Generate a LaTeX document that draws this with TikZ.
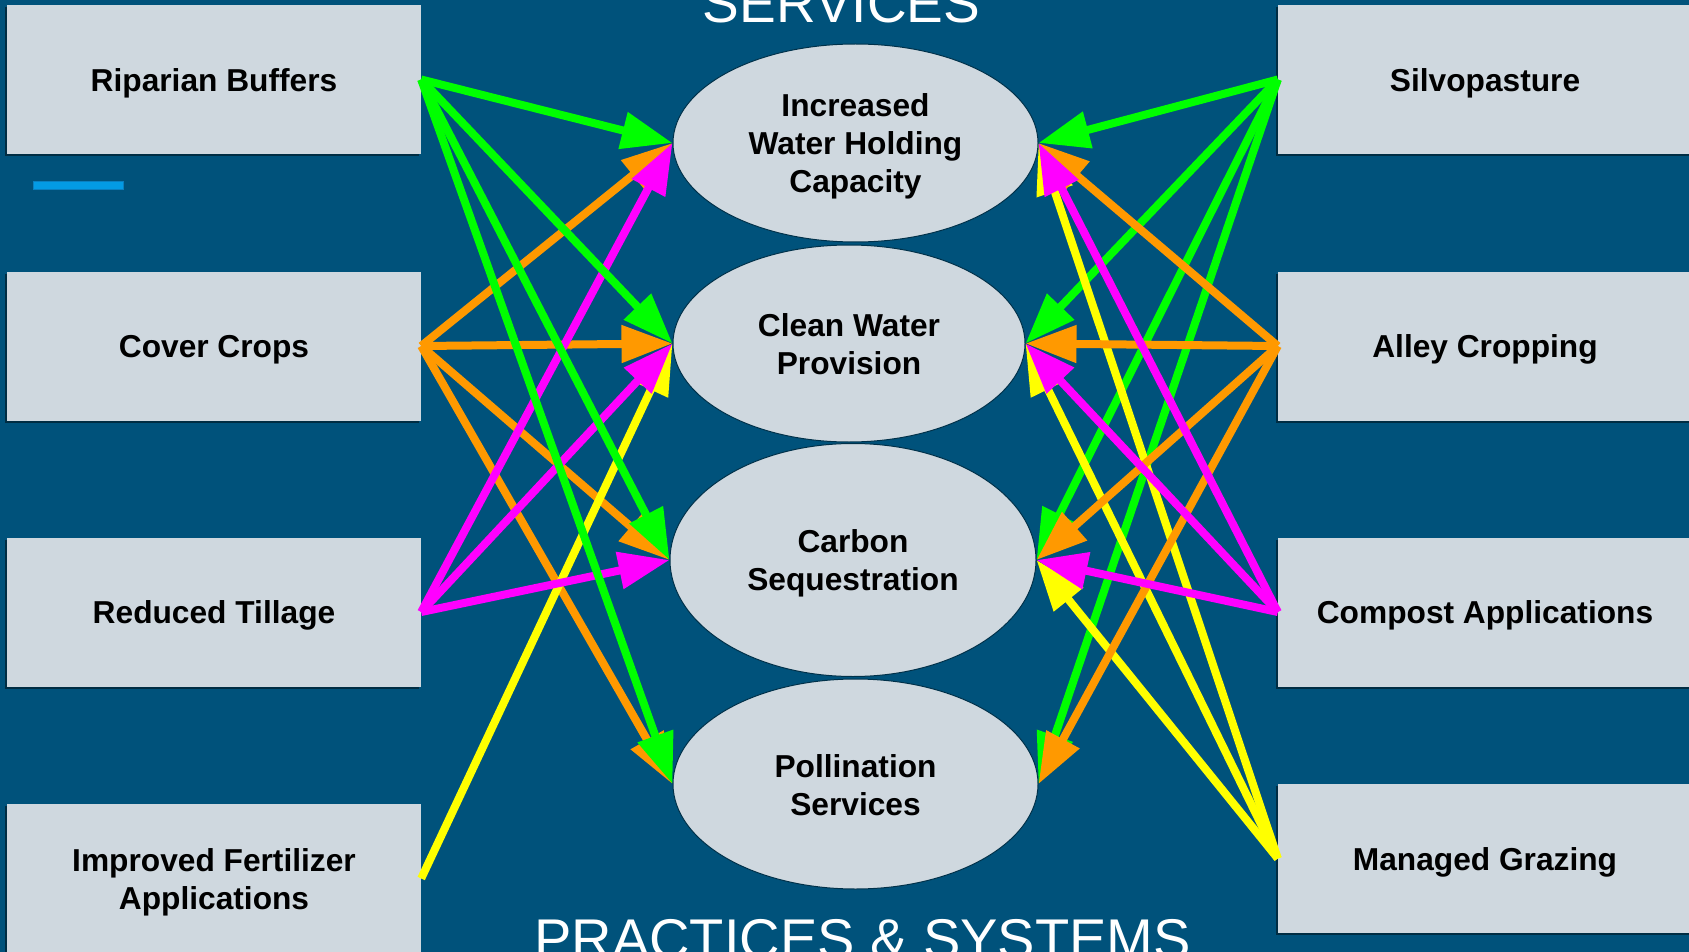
\documentclass[tikz,border=0pt]{standalone}
\usepackage{fontspec}
\setmainfont{Liberation Sans}
\usetikzlibrary{arrows.meta,shapes.geometric,shadows}
\definecolor{bg}{HTML}{00527B}
\definecolor{boxfill}{HTML}{CFD8DF}
\definecolor{accent}{HTML}{039BE5}
\definecolor{accentedge}{HTML}{0A7FC0}
\definecolor{cgreen}{HTML}{00FF00}
\definecolor{corange}{HTML}{FF9900}
\definecolor{cmag}{HTML}{FF00FF}
\definecolor{cyel}{HTML}{FFFF00}
\newcommand{\lnstrut}{\rule[-0.17em]{0pt}{1.12em}}
\begin{document}
\begin{tikzpicture}[x=1pt,y=-1pt,
  practice/.style={rectangle, fill=boxfill, minimum width=414pt, minimum height=149pt,
    inner sep=0pt, font=\fontsize{31.7}{38}\selectfont\bfseries, align=center,
    drop shadow={shadow xshift=-2pt, shadow yshift=-2pt, opacity=0.45, fill=black}},
  service/.style={ellipse, fill=boxfill, draw=bg!60!black, line width=1pt, inner sep=0pt,
    font=\fontsize{31.7}{38}\selectfont\bfseries, align=center},
  link/.style={line width=8pt, -{Triangle[length=51pt,width=36pt]}},
  titletext/.style={text=white, anchor=base, inner sep=0pt}]
\useasboundingbox (0,0) rectangle (1689,952);
\clip (0,0) rectangle (1689,952);
\fill[bg] (0,0) rectangle (1689,952);

% titles
\node[titletext, font=\fontsize{55}{66}\selectfont] (ttop) at (841.5,23) {SERVICES};
\node[titletext, font=\fontsize{56}{66}\selectfont] (tbot) at (862.5,958) {PRACTICES \& SYSTEMS};

% accent bar
\node[rectangle, fill=accent, draw=accentedge, line width=0.8pt, minimum width=90pt, minimum height=8pt, inner sep=0pt] (bar) at (78,185) {};

% left practices
\node[practice] (rb) at (214,79.5) {\lnstrut Riparian Buffers};
\node[practice] (cc) at (214,346) {\lnstrut Cover Crops};
\node[practice] (rt) at (214,612) {\lnstrut Reduced Tillage};
\node[practice] (ifa) at (214,878.5) {\lnstrut Improved Fertilizer\\\lnstrut Applications};

% right practices
\node[practice] (sp) at (1485,79.5) {\lnstrut Silvopasture};
\node[practice] (ac) at (1485,346) {\lnstrut Alley Cropping};
\node[practice] (ca) at (1485,612) {\lnstrut Compost Applications};
\node[practice] (mg) at (1485,858.5) {\lnstrut Managed Grazing};

% services
\node[service, minimum width=365pt, minimum height=198pt] (e1) at (855.5,143) {\lnstrut Increased\\\lnstrut Water Holding\\\lnstrut Capacity};
\node[service, minimum width=352pt, minimum height=197pt] (e2) at (849,343.5) {\lnstrut Clean Water\\\lnstrut Provision};
\node[service, minimum width=366pt, minimum height=233pt] (e3) at (853,560) {\lnstrut Carbon\\\lnstrut Sequestration};
\node[service, minimum width=365pt, minimum height=210pt] (e4) at (855.5,784) {\lnstrut Pollination\\\lnstrut Services};

% left links
\draw[link, corange] (cc.east) -- (e1.west);
\draw[link, corange] (cc.east) -- (e2.west);
\draw[link, corange] (cc.east) -- (e3.west);
\draw[link, corange] (cc.east) -- (e4.west);
\draw[link, cyel] (ifa.east) -- (e2.west);
\draw[link, cmag] (rt.east) -- (e1.west);
\draw[link, cmag] (rt.east) -- (e2.west);
\draw[link, cmag] (rt.east) -- (e3.west);
\draw[link, cgreen] (rb.east) -- (e1.west);
\draw[link, cgreen] (rb.east) -- (e2.west);
\draw[link, cgreen] (rb.east) -- (e3.west);
\draw[link, cgreen] (rb.east) -- (e4.west);

% right links
\draw[link, cgreen] (sp.west) -- (e1.east);
\draw[link, cgreen] (sp.west) -- (e2.east);
\draw[link, cgreen] (sp.west) -- (e3.east);
\draw[link, cgreen] (sp.west) -- (e4.east);
\draw[link, cyel] (mg.west) -- (e1.east);
\draw[link, cyel] (mg.west) -- (e2.east);
\draw[link, cyel] (mg.west) -- (e3.east);
\draw[link, corange] (ac.west) -- (e1.east);
\draw[link, corange] (ac.west) -- (e2.east);
\draw[link, corange] (ac.west) -- (e3.east);
\draw[link, corange] (ac.west) -- (e4.east);
\draw[link, cmag] (ca.west) -- (e1.east);
\draw[link, cmag] (ca.west) -- (e2.east);
\draw[link, cmag] (ca.west) -- (e3.east);
\end{tikzpicture}
\end{document}
